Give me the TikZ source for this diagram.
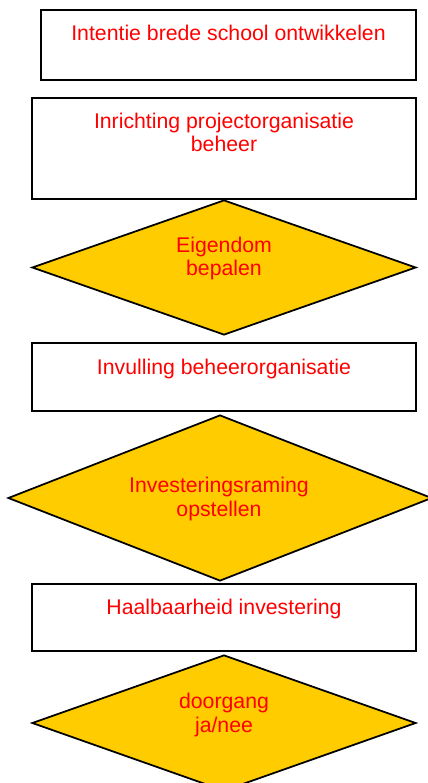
\documentclass[tikz,border=0pt]{standalone}
\usepackage{fontspec}
\setmainfont{Liberation Sans}
\usepackage{xcolor}
\usetikzlibrary{shapes.geometric}
\definecolor{geel}{HTML}{FFCC00}

\begin{document}
\begin{tikzpicture}[
    x=0.02cm, y=-0.02cm,
    stap/.style={draw, rectangle, line width=1pt, inner sep=0pt, minimum width=7.68cm},
    keuze/.style={draw, diamond, fill=geel, line width=1pt, inner sep=0pt},
    tekst/.style={anchor=base, align=center, inner sep=0pt, text=red, font=\fontsize{12.1}{13.4}\selectfont}
    ]
        \useasboundingbox (0,0) rectangle (427,783);

        % stappen
        \node[stap, minimum width=7.5cm, minimum height=1.4cm] (b1) at (228.5,45) {};
        \node[stap, minimum height=2.02cm] (b2) at (224,148.5) {};
        \node[stap, minimum height=1.36cm] (b3) at (224,377) {};
        \node[stap, minimum height=1.34cm] (b4) at (224,617.5) {};

        % beslissingen
        \node[keuze, minimum width=7.68cm, minimum height=2.7cm] (k1) at (224,267.5) {};
        \node[keuze, minimum width=8.48cm, minimum height=3.32cm] (k2) at (220,498) {};
        \node[keuze, minimum width=7.68cm, minimum height=2.72cm] (k3) at (224,723) {};

        % teksten (basislijn van de onderste regel)
        \node[tekst] (t1) at (228.5,41) {Intentie brede school ontwikkelen};
        \node[tekst] (t2) at (224,152) {Inrichting projectorganisatie\\beheer};
        \node[tekst] (t3) at (224,276) {Eigendom\\bepalen};
        \node[tekst] (t4) at (224,374) {Invulling beheerorganisatie};
        \node[tekst] (t5) at (219,516) {Investeringsraming\\opstellen};
        \node[tekst] (t6) at (224,614) {Haalbaarheid investering};
        \node[tekst] (t7) at (224,732) {doorgang\\ja/nee};
\end{tikzpicture}
\end{document}
